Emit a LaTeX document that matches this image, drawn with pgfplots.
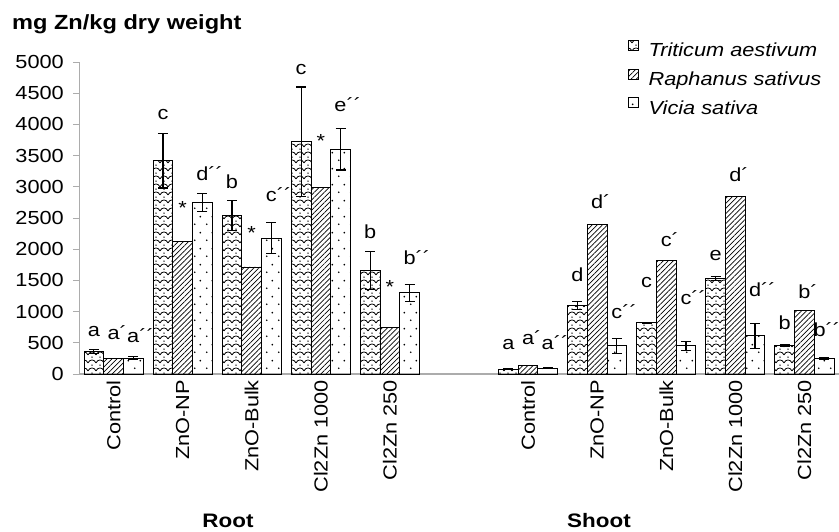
\documentclass[border=0pt]{standalone}
\usepackage{fontspec}
\setmainfont{Liberation Sans}[FakeStretch=1.15]
\usepackage{pgfplots}
\pgfplotsset{compat=1.18}
\usepackage{pgfplotstable}
\usetikzlibrary{patterns,patterns.meta}

\tikzdeclarepattern{
  name=wavedots,
  type=uncolored,
  bounding box={(-0.5pt,-0.5pt) and (8.5pt,8.5pt)},
  tile size={(8pt,8pt)},
  code={
    \draw[line width=0.8pt] (0pt,1pt) .. controls (1.5pt,5pt) and (6.5pt,5pt) .. (8pt,1pt);
    \fill (4pt,6.8pt) circle (0.75pt);
  }
}
\tikzdeclarepattern{
  name=sparsedots,
  type=uncolored,
  bounding box={(0pt,0pt) and (12pt,16pt)},
  tile size={(12pt,16pt)},
  code={
    \fill (3pt,4pt) circle (1pt);
    \fill (9pt,12pt) circle (1pt);
  }
}

\pgfplotstableread{
x y e
0 360 30
1 3420 440
2 2540 245
3 3720 880
4 1660 300
6 78 10
7 1100 60
8 820 8
9 1530 30
10 450 15
}\tritab
\pgfplotstableread{
x y
0 245
1 2125
2 1715
3 2990
4 740
6 140
7 2400
8 1815
9 2845
10 1015
}\raptab
\pgfplotstableread{
x y e
0 255 28
1 2750 140
2 2175 248
3 3600 330
4 1300 135
6 90 8
7 450 125
8 450 70
9 610 205
10 255 15
}\victab

\begin{document}
\fontsize{18.9pt}{22pt}\selectfont
\begin{tikzpicture}
\begin{axis}[
  name=ax,
  scale only axis, width=760pt, height=312pt,
  xmin=-0.5, xmax=10.5, ymin=0, ymax=5000,
  ybar=0pt, bar width=0.285,
  axis x line=bottom, axis y line=left,
  x axis line style={draw=gray!65, line width=1.6pt, -},
  y axis line style={draw=gray!65, line width=0.9pt, -},
  ytick={0,500,...,5000},
  xtick={0,1,2,3,4,6,7,8,9,10},
  xticklabels={Control,ZnO-NP,ZnO-Bulk,Cl2Zn 1000,Cl2Zn 250,Control,ZnO-NP,ZnO-Bulk,Cl2Zn 1000,Cl2Zn 250},
  xticklabel style={rotate=90, anchor=east, inner sep=0pt},
  xtick style={draw=none},
  ytick style={draw=gray!65, line width=0.9pt},
  tick align=outside, major tick length=6pt,
  yticklabel style={inner sep=0pt, xshift=-9pt},
  /pgf/number format/.cd, 1000 sep={}, assume math mode=true, /pgfplots/.cd,
  clip=false,
  legend style={at={(0.7224,1.070)}, anchor=north west, draw=none, fill=none,
    inner sep=0pt, outer sep=0pt, row sep=8.1pt, column sep=10pt, font=\itshape,
    nodes={inner sep=0pt, text height=13.5pt, text depth=4pt}},
  legend cell align=left,
  legend image code/.code={\draw[#1,/tikz/.cd,line width=0.6pt] (0pt,1.5pt) rectangle (10pt,11.5pt);},
]
\addplot[draw=black, line width=0.9pt, pattern=wavedots, pattern color=black,
  error bars/.cd, y dir=both, y explicit,
  error bar style={line width=1.2pt, black},
  error mark options={rotate=90, mark size=5pt, line width=1.2pt, black}]
  table[x=x, y=y, y error=e]{\tritab};
\addplot[draw=black, line width=0.9pt, pattern={Lines[angle=45,distance=3.6pt,line width=0.7pt]}, pattern color=black]
  table[x=x, y=y]{\raptab};
\addplot[draw=black, line width=0.9pt, pattern=sparsedots, pattern color=black,
  error bars/.cd, y dir=both, y explicit,
  error bar style={line width=1.2pt, black},
  error mark options={rotate=90, mark size=5pt, line width=1.2pt, black}]
  table[x=x, y=y, y error=e]{\victab};
\legend{Triticum aestivum, Raphanus sativus, Vicia sativa}

% significance letters
\def\L#1#2#3{\node[anchor=base, inner sep=0pt] at (axis cs:#1,#2) {#3};}
\L{-0.285}{593}{a}\L{0}{545}{a\rlap{´}}\L{0.285}{497}{a\rlap{´´}}
\L{0.715}{4072}{c}\L{1}{2549}{*}\L{1.285}{3094}{d\rlap{´´}}
\L{1.715}{2966}{b}\L{2}{2148}{*}\L{2.285}{2757}{c\rlap{´´}}
\L{2.715}{4793}{c}\L{3}{3623}{*}\L{3.285}{4200}{e\rlap{´´}}
\L{3.715}{2164}{b}\L{4}{1298}{*}\L{4.285}{1747}{b\rlap{´´}}
\L{5.715}{385}{a}\L{6}{465}{a\rlap{´}}\L{6.285}{385}{a\rlap{´´}}
\L{6.715}{1475}{d}\L{7}{2645}{d\rlap{´}}\L{7.285}{882}{c\rlap{´´}}
\L{7.715}{1379}{c}\L{8}{2036}{c\rlap{´}}\L{8.285}{1106}{c\rlap{´´}}
\L{8.715}{1811}{e}\L{9}{3078}{d\rlap{´}}\L{9.285}{1234}{d\rlap{´´}}
\L{9.715}{721}{b}\L{10}{1202}{b\rlap{´}}\L{10.22}{593}{b\rlap{´´}}
\end{axis}
\node[anchor=base west, inner sep=0pt, font={\fontsize{20.5pt}{24pt}\selectfont\bfseries}] at ([xshift=-67pt,yshift=32pt]ax.north west) {mg Zn/kg dry weight};
\node[anchor=base, inner sep=0pt, font={\fontsize{19.5pt}{23pt}\selectfont\bfseries}] at ([xshift=149pt,yshift=-154pt]ax.south west) {Root};
\node[anchor=base, inner sep=0pt, font={\fontsize{19.5pt}{23pt}\selectfont\bfseries}] at ([xshift=520pt,yshift=-154pt]ax.south west) {Shoot};
\pgfresetboundingbox
\path[use as bounding box] ([xshift=-79pt,yshift=-158pt]ax.south west) rectangle ([yshift=62pt]ax.north east);
\end{tikzpicture}
\end{document}
